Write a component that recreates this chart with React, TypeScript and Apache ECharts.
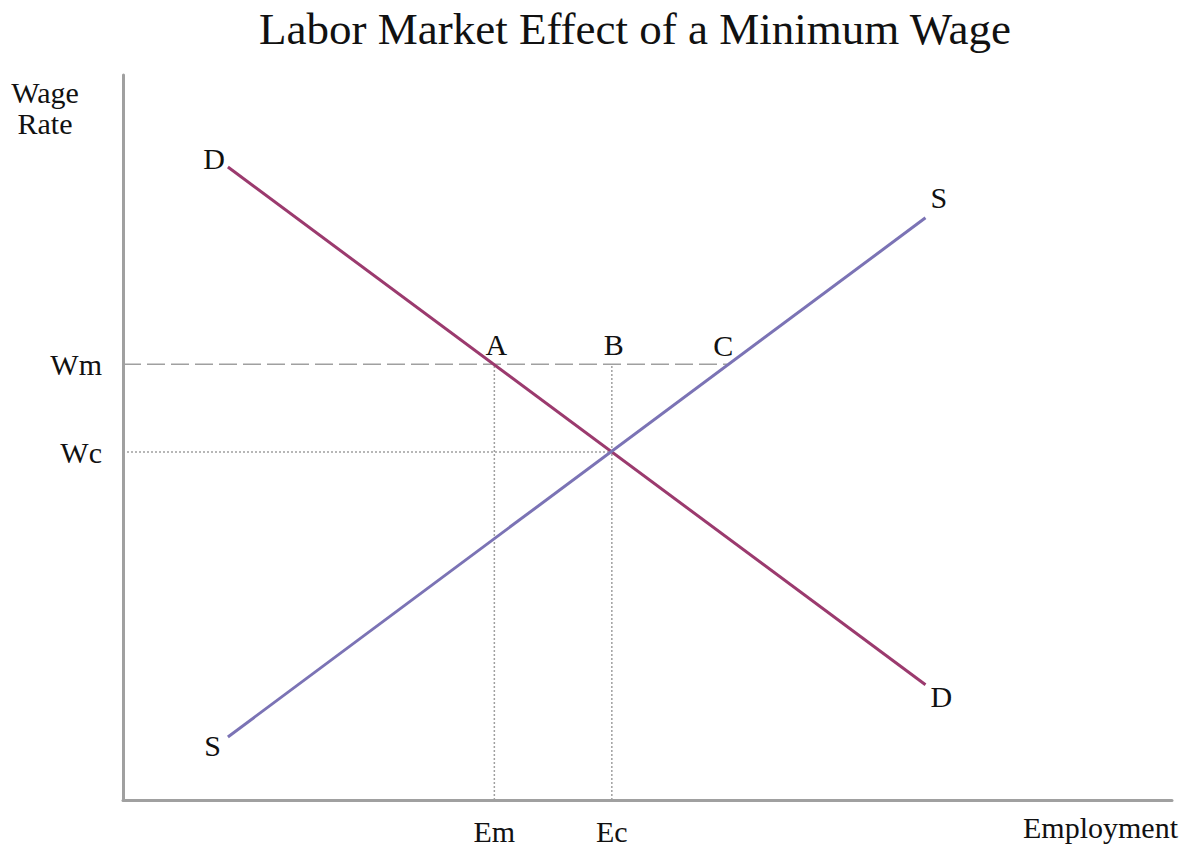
import React, { useEffect, useRef } from "react";
import * as echarts from "echarts";

const TITLE = "Labor Market Effect of a Minimum Wage";
const X_NAME = "Employment";
const Y_NAME = "Wage\nRate";

// Demand and supply curves (employment, wage)
const demand: [number, number][] = [
  [10.0, 87.3],
  [76.5, 15.9],
];
const supply: [number, number][] = [
  [10.0, 8.7],
  [76.5, 80.3],
];
const curveLabels = { demand: ["D", "D"], supply: ["S", "S"] };

// Key levels
const Wm = 60.1;
const Wc = 48.0;
const Em = 35.4;
const Ec = 46.6;
const Cx = 57.6;

const xTicks = [Em, Ec];
const xTickNames = ["Em", "Ec"];
const yTicks = [Wm, Wc];
const yTickNames = ["Wm", "Wc"];

const pointNames = ["A", "B", "C"];
const pointXs = [Em, Ec, Cx];

const SERIF = "'Liberation Serif', 'Times New Roman', serif";
const GRAY = "#a0a0a0";

export default function App() {
  const ref = useRef<HTMLDivElement>(null);
  useEffect(() => {
    if (!ref.current) return;
    const chart = echarts.init(ref.current, undefined, { renderer: "svg" });
    const txt = { fontFamily: SERIF, fontSize: 30, color: "#111" };
    const tickName = (v: number, ticks: number[], names: string[]) => {
      let best = 0;
      ticks.forEach((t, i) => {
        if (Math.abs(t - v) < Math.abs(ticks[best] - v)) best = i;
      });
      return names[best];
    };
    chart.setOption({
      animation: false,
      title: {
        text: TITLE,
        left: 254,
        top: 1,
        textStyle: { fontFamily: SERIF, fontSize: 45, fontWeight: "normal", color: "#111" },
      },
      grid: { left: 123, right: 11, top: 75, bottom: 46 },
      xAxis: {
        type: "value",
        min: 0,
        max: 100,
        splitLine: { show: false },
        axisTick: { show: false },
        axisLine: { lineStyle: { color: GRAY, width: 3 } },
        axisLabel: {
          customValues: xTicks,
          formatter: (v: number) => tickName(v, xTicks, xTickNames),
          margin: 16,
          ...txt,
        },
      },
      yAxis: {
        type: "value",
        min: 0,
        max: 100,
        splitLine: { show: false },
        axisTick: { show: false },
        axisLine: { lineStyle: { color: GRAY, width: 3 } },
        axisLabel: {
          customValues: yTicks,
          formatter: (v: number) => tickName(v, yTicks, yTickNames),
          margin: 21,
          ...txt,
        },
      },
      graphic: [
        {
          type: "text",
          x: 45,
          y: 77,
          style: { text: Y_NAME, ...txt, fill: "#111", align: "center", verticalAlign: "top", lineHeight: 31 },
        },
        {
          type: "text",
          right: 5,
          top: 812,
          style: { text: X_NAME, ...txt, fill: "#111" },
        },
      ],
      series: [
        {
          type: "line",
          data: [[0, Wm], [Cx, Wm]],
          symbol: "none",
          lineStyle: { color: GRAY, width: 1.5, type: [18, 6] },
          silent: true,
        },
        {
          type: "line",
          data: [[0, Wc], [Ec, Wc]],
          symbol: "none",
          lineStyle: { color: GRAY, width: 1.5, type: [2, 2] },
          silent: true,
        },
        {
          type: "line",
          data: [[Em, 0], [Em, Wm]],
          symbol: "none",
          lineStyle: { color: GRAY, width: 1.5, type: [2, 2] },
          silent: true,
        },
        {
          type: "line",
          data: [[Ec, 0], [Ec, Wm]],
          symbol: "none",
          lineStyle: { color: GRAY, width: 1.5, type: [2, 2] },
          silent: true,
        },
        {
          type: "line",
          name: "Demand",
          data: demand.map((p, i) => ({
            value: p,
            label: {
              show: true,
              formatter: curveLabels.demand[i],
              position: i === 0 ? "left" : "right",
              offset: i === 0 ? [2, -9] : [0, 12],
              ...txt,
            },
          })),
          symbol: "circle",
          symbolSize: 0,
          lineStyle: { color: "#9b3a6e", width: 3 },
          itemStyle: { color: "#9b3a6e" },
        },
        {
          type: "line",
          name: "Supply",
          data: supply.map((p, i) => ({
            value: p,
            label: {
              show: true,
              formatter: curveLabels.supply[i],
              position: i === 0 ? "left" : "right",
              offset: i === 0 ? [-2, 9] : [0, -20],
              ...txt,
            },
          })),
          symbol: "circle",
          symbolSize: 0,
          lineStyle: { color: "#7b73b5", width: 3 },
          itemStyle: { color: "#7b73b5" },
        },
        {
          type: "scatter",
          symbolSize: 0,
          itemStyle: { opacity: 1 },
          data: pointXs.map((x, i) => ({
            value: [x, Wm],
            label: {
              show: true,
              formatter: pointNames[i],
              position: "top",
              offset: i === 2 ? [-4, 1] : [2, 0],
              ...txt,
            },
          })),
        },
      ],
    });
    return () => chart.dispose();
  }, []);
  return (
    <div
      ref={ref}
      style={{ position: "absolute", left: 0, top: 0, width: 1183, height: 846, background: "#fff" }}
    />
  );
}
